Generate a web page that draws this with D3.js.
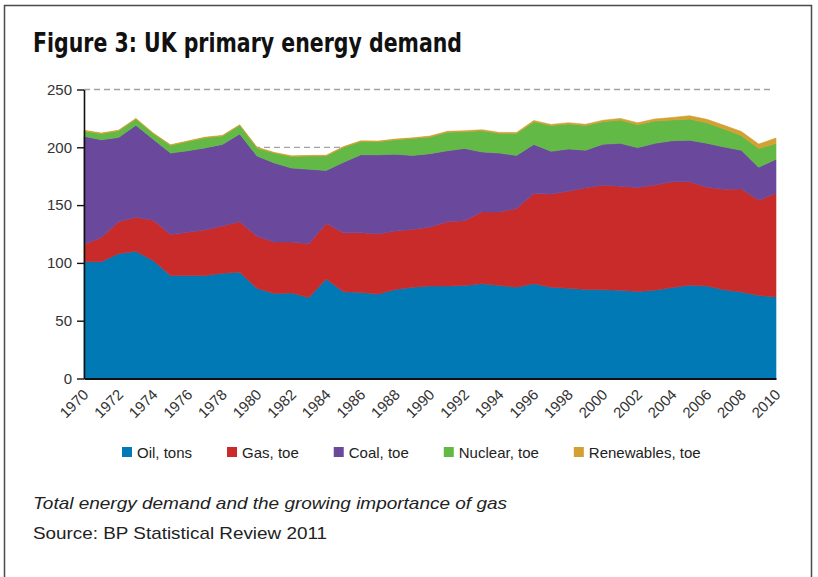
<!DOCTYPE html>
<html>
<head>
<meta charset="utf-8">
<script src="https://cdn.jsdelivr.net/npm/d3@7"></script>
<style>
    body { margin: 0; background: #fff; }
    svg { display: block; font-family: "Liberation Sans", Arial, sans-serif; }
</style>
</head>
<body>
<svg id="chart" width="818" height="577"></svg>
<script>
// values (Mtoe, oil in tons), 1970..2010
const years = d3.range(1970, 2011);
const oil = [101, 101, 108, 110, 102, 89, 89, 89, 91, 92,
    78, 73.5, 74, 70, 86, 75, 74.5, 73, 77, 79,
    80, 80, 80.5, 82, 80.5, 79, 82, 79, 78, 77,
    76.7, 76.4, 75.2, 76.4, 78.7, 80.7, 80, 76.7, 74.9, 71.8,
    70.6];
const gas = [15, 21, 27.5, 29.5, 35, 35.5, 37.5, 39.5, 41, 43.5,
    45, 44.5, 44, 46.5, 48, 51, 51.5, 52, 50.5, 50,
    51, 55.5, 56, 62, 63.5, 68, 78, 80.5, 84, 88,
    90.5, 90, 90, 91, 91.5, 89.5, 85.5, 87, 89, 82.5,
    89.5];
const coal = [93.5, 84.5, 73, 79.5, 70, 70.5, 70.5, 71, 70.5, 76,
    69.5, 68.5, 64, 64.5, 46, 61, 67.5, 68.5, 66.5, 64,
    63.5, 61.5, 62.5, 52, 51, 46, 42.5, 37, 36.5, 32.5,
    35.5, 37, 34.5, 36, 35.5, 36, 38, 36.5, 33.5, 28.5,
    29.5];
const nuclear = [4.7, 5.3, 5.8, 5.5, 4.9, 6.7, 8, 8.8, 7.3, 7.5,
    7, 8.5, 10, 11.4, 12.5, 13, 11.5, 11.3, 12.5, 14.6,
    14.4, 16, 14.5, 18.4, 17.1, 19, 19.6, 22.3, 21.7, 21.4,
    19.5, 20.2, 19.9, 19.3, 17.9, 18.3, 17.7, 15.6, 12.7, 16.1,
    13.6];
const renewables = [0.5, 0.5, 0.5, 0.5, 0.5, 0.5, 0.5, 0.5, 0.5, 0.5,
    0.6, 0.6, 0.6, 0.6, 0.6, 0.6, 0.6, 0.6, 0.6, 0.6,
    0.8, 0.8, 0.8, 0.8, 0.8, 0.8, 1, 1, 1, 1,
    1.2, 1.4, 1.6, 1.8, 2.2, 2.8, 3, 3.2, 3.5, 3.9,
    4.8];

const seriesKeys = ["oil", "gas", "coal", "nuclear", "renewables"];
const seriesNames = ["Oil, tons", "Gas, toe", "Coal, toe", "Nuclear, toe", "Renewables, toe"];
const colors = ["#0079b4", "#c92b2a", "#6a489c", "#62b946", "#d4a032"];
const yTicks = [0, 50, 100, 150, 200, 250];
const xTicks = d3.range(1970, 2011, 2);

const rows = years.map((y, i) => ({
    year: y,
    oil: oil[i],
    gas: gas[i],
    coal: coal[i],
    nuclear: nuclear[i],
    renewables: renewables[i]
}));

const svg = d3.select("#chart");

// frame around the figure
svg.append("path")
    .attr("d", "M4.5,577V5.5H811.5V577")
    .attr("fill", "none")
    .attr("stroke", "#4a4a4a")
    .attr("stroke-width", 1.5);

svg.append("text")
    .attr("x", 33)
    .attr("y", 52)
    .attr("font-family", "'Liberation Sans Narrow', 'DejaVu Sans Condensed', 'Liberation Sans', sans-serif")
    .attr("font-weight", "bold")
    .attr("font-size", 26)
    .attr("fill", "#111")
    .attr("textLength", 429)
    .attr("lengthAdjust", "spacingAndGlyphs")
    .text("Figure 3: UK primary energy demand");

const x = d3.scaleLinear()
    .domain([1970, 2010])
    .range([84, 776]);

const y = d3.scaleLinear()
    .domain([0, 250])
    .range([378.5, 89.5]);

// dashed grid, sits behind the areas
svg.append("g")
    .selectAll("line")
    .data(yTicks.filter(d => d > 0))
    .join("line")
    .attr("x1", x(1970))
    .attr("x2", 772)
    .attr("y1", d => y(d))
    .attr("y2", d => y(d))
    .attr("stroke", "#a3a3a3")
    .attr("stroke-width", 1.3)
    .attr("stroke-dasharray", "6,4");

const stacked = d3.stack().keys(seriesKeys)(rows);

const area = d3.area()
    .x(d => x(d.data.year))
    .y0(d => y(d[0]))
    .y1(d => y(d[1]));

svg.append("g")
    .selectAll("path")
    .data(stacked)
    .join("path")
    .attr("fill", (d, i) => colors[i])
    .attr("stroke", (d, i) => colors[i])
    .attr("stroke-width", 0.6)
    .attr("d", area);

// x axis with slanted year labels
const xAxis = svg.append("g")
    .attr("transform", `translate(0,${y(0)})`)
    .call(d3.axisBottom(x).tickValues(xTicks).tickFormat(d3.format("d")).tickSize(0).tickSizeOuter(0));
xAxis.select(".domain").attr("stroke", "#111").attr("stroke-width", 2);
xAxis.selectAll("text")
    .attr("font-size", 15)
    .attr("fill", "#333")
    .attr("text-anchor", "end")
    .attr("dy", null)
    .attr("y", 0)
    .attr("transform", "translate(5,17) rotate(-45)");

const yAxis = svg.append("g")
    .attr("transform", `translate(${x(1970)},0)`)
    .call(d3.axisLeft(y).tickValues(yTicks).tickSize(7).tickPadding(5).tickSizeOuter(0));
yAxis.select(".domain").attr("stroke", "#111").attr("stroke-width", 1.6);
yAxis.selectAll(".tick line").attr("stroke", "#111").attr("stroke-width", 1.4);
yAxis.selectAll("text")
    .attr("font-size", 15)
    .attr("fill", "#333");

// legend, laid out left to right
const legend = svg.append("g").attr("transform", "translate(122,447)");
let lx = 0;
seriesNames.forEach((name, i) => {
    const item = legend.append("g").attr("transform", `translate(${lx},0)`);
    item.append("rect")
        .attr("width", 10)
        .attr("height", 10)
        .attr("fill", colors[i]);
    const t = item.append("text")
        .attr("x", 15)
        .attr("y", 11)
        .attr("font-size", 15)
        .attr("fill", "#222")
        .text(name);
    lx += 15 + t.node().getComputedTextLength() + 35;
});

svg.append("text")
    .attr("x", 33)
    .attr("y", 509)
    .attr("font-size", 17)
    .attr("font-style", "italic")
    .attr("fill", "#222")
    .attr("textLength", 474)
    .attr("lengthAdjust", "spacingAndGlyphs")
    .text("Total energy demand and the growing importance of gas");

svg.append("text")
    .attr("x", 33)
    .attr("y", 539)
    .attr("font-size", 17)
    .attr("fill", "#222")
    .attr("textLength", 294)
    .attr("lengthAdjust", "spacingAndGlyphs")
    .text("Source: BP Statistical Review 2011");
</script>
</body>
</html>
